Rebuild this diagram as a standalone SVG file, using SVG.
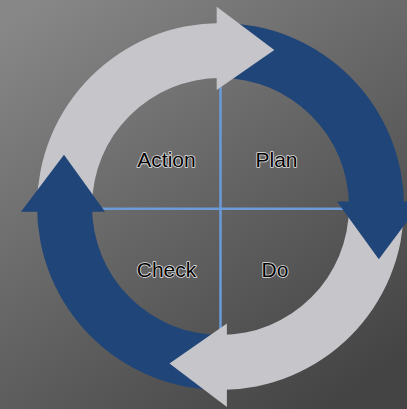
<svg xmlns="http://www.w3.org/2000/svg" width="407" height="409" viewBox="0 0 407 409">
  <defs>
    <linearGradient id="bg" x1="0.1" y1="0" x2="0.8" y2="1">
      <stop offset="0" stop-color="#878787"/>
      <stop offset="0.5" stop-color="#656565"/>
      <stop offset="1" stop-color="#444444"/>
    </linearGradient>
  </defs>
  <style>
    .light { fill: #c6c6ca; }
    .blue { fill: #1f4579; }
    .axis { stroke: #6b9bd8; stroke-width: 2.5; fill: none; }
    .lbl { font-family: "Liberation Sans", Arial, sans-serif; font-size: 21px; fill: #000000; stroke: #e4e4e4; stroke-width: 1.6px; paint-order: stroke; stroke-linejoin: round; text-anchor: middle; }
  </style>
  <rect id="background" x="0" y="0" width="407" height="409" fill="url(#bg)"/>
  <g id="connectors">
    <line class="axis" x1="220.5" y1="82" x2="220.5" y2="332"/>
    <line class="axis" x1="98" y1="208.8" x2="346" y2="208.8"/>
  </g>
  <g id="arrow-bodies">
    <path id="body-act" class="light" d="M37,206.5 A183.5,183.5 0 0 1 220.5,23 L220.5,78 A128.5,128.5 0 0 0 92,206.5 Z"/>
    <path id="body-plan" class="blue" d="M220.5,23 A183.5,183.5 0 0 1 404,206.5 L349,206.5 A128.5,128.5 0 0 0 220.5,78 Z"/>
    <path id="body-do" class="light" d="M404,206.5 A183.5,183.5 0 0 1 220.5,390 L220.5,335 A128.5,128.5 0 0 0 349,206.5 Z"/>
    <path id="body-check" class="blue" d="M220.5,390 A183.5,183.5 0 0 1 37,206.5 L92,206.5 A128.5,128.5 0 0 0 220.5,335 Z"/>
  </g>
  <g id="arrow-heads">
    <polygon id="head-act" class="light" points="216.7,6.7 274.3,50 216.7,90"/>
    <polygon id="head-plan" class="blue" points="421.8,201.6 378.8,259.2 337,201.6"/>
    <polygon id="head-do" class="light" points="226.9,407 169.5,363.4 226.9,323.4"/>
    <polygon id="head-check" class="blue" points="21,211.8 64,154.8 105,211.8"/>
  </g>
  <g id="node-action"><text class="lbl" x="166.5" y="167.3">Action</text></g>
  <g id="node-plan"><text class="lbl" x="276.5" y="167.3">Plan</text></g>
  <g id="node-check"><text class="lbl" x="166.5" y="276.7">Check</text></g>
  <g id="node-do"><text class="lbl" x="275" y="276.7">Do</text></g>
</svg>
